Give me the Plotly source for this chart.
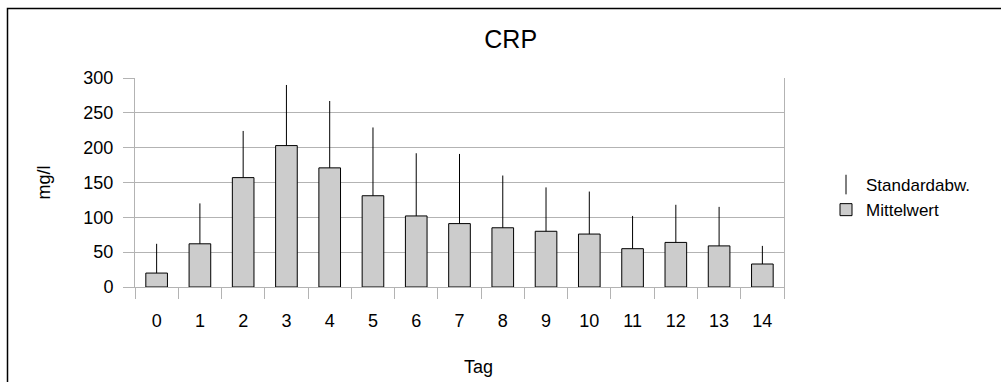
import plotly.graph_objects as go

days = [str(i) for i in range(15)]
mean_vals = [20, 62, 157, 203, 171, 131, 102, 91, 85, 80, 76, 55, 64, 59, 33]
std_vals = [42, 58, 67, 87, 96, 98, 90, 100, 75, 63, 61, 47, 54, 56, 26]
y_ticks = [0, 50, 100, 150, 200, 250, 300]

FONT = "Liberation Sans, Arial, sans-serif"
GRID = "#b3b3b3"

L, R, T, B = 135, 784, 78, 287
W, H = 1001, 382

def px_x(p):
    return (p - L) / (R - L)

def px_y(p):
    return (B - p) / (B - T)

fig = go.Figure()

fig.add_trace(go.Bar(
    x=days, y=mean_vals, name="Mittelwert", width=0.5,
    marker=dict(color="#cccccc", line=dict(color="#000000", width=1)),
    error_y=dict(type="data", symmetric=False, array=std_vals,
                 arrayminus=[0] * len(std_vals), color="#000000",
                 thickness=1, width=0),
    legendrank=2,
))

fig.add_trace(go.Scatter(
    x=[None], y=[None], name="Standardabw.", mode="markers",
    marker=dict(symbol="line-ns-open", size=14,
                line=dict(color="#000000", width=1), color="#000000"),
    legendrank=1,
))

border = "M {x0} {y0} L {x0} {y1} L {x2} {y1}".format(
    x0=px_x(7.5), y0=px_y(400), y1=px_y(8.5), x2=px_x(1020))

fig.update_layout(
    width=W, height=H,
    margin=dict(l=L, r=W - R, t=T, b=H - B, pad=0, autoexpand=False),
    paper_bgcolor="white", plot_bgcolor="white",
    font=dict(family=FONT, size=18, color="#000000"),
    title=dict(text="CRP", x=510.7 / W, xref="container", xanchor="center",
               y=1 - 39 / H, yref="container", yanchor="middle",
               font=dict(size=25)),
    bargap=0.5,
    showlegend=True,
    legend=dict(x=px_x(826), xanchor="left", y=px_y(167), yanchor="top",
                font=dict(size=17), bgcolor="rgba(0,0,0,0)",
                tracegroupgap=0, itemwidth=30),
    xaxis=dict(
        type="category", range=[-0.5, 14.5], automargin=False,
        tickson="boundaries", ticks="outside", ticklen=11, tickcolor=GRID,
        showgrid=False, showline=True, linecolor=GRID, linewidth=1,
        zeroline=False, ticklabelstandoff=17,
    ),
    yaxis=dict(
        range=[0, 300], tickvals=y_ticks, ticktext=[str(v) for v in y_ticks],
        automargin=False,
        ticks="outside", ticklen=11, tickcolor=GRID,
        showgrid=True, gridcolor=GRID, gridwidth=1,
        showline=True, linecolor=GRID, linewidth=1, mirror=True,
        zeroline=False, ticklabelstandoff=6,
        title=dict(text="mg/l", standoff=28, font=dict(size=18)),
    ),
    annotations=[dict(text="Tag", xref="paper", yref="paper",
                      x=px_x(478), y=px_y(367), xanchor="center",
                      yanchor="middle", showarrow=False,
                      font=dict(size=18))],
    shapes=[dict(type="path", path=border, xref="paper", yref="paper",
                 line=dict(color="#000000", width=1.5), layer="above")],
)

fig.write_html("out.html")
